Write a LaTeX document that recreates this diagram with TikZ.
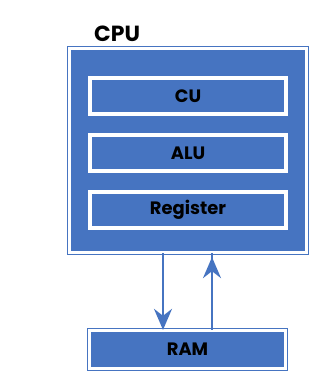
\documentclass[tikz,border=0pt]{standalone}
\usepackage{fontspec}
\setmainfont{Poppins}
\usetikzlibrary{arrows.meta}
\definecolor{cpublue}{RGB}{70,116,193}
\tikzset{
  x=1bp, y=-1bp,
  labelfont/.style={font=\fontsize{18}{20}\selectfont\bfseries},
  unitbox/.style={labelfont, fill=cpublue, draw=white, line width=4bp, minimum width=196bp, minimum height=36bp, inner sep=0pt},
  framedbox/.style={fill=cpublue, draw=cpublue, double=white, double distance=2.4bp, line width=1.3bp, inner sep=0pt},
  link/.style={draw=cpublue, line width=2.4bp},
  tip/.style={-{Stealth[length=21bp, width=18bp, inset=7bp]}}
}
\begin{document}
\begin{tikzpicture}
\useasboundingbox[fill=white] (0,0) rectangle (331,372);
\node[framedbox, minimum width=237bp, minimum height=204bp] (cpu) at (188,150.5) {};
\node[font=\fontsize{22}{24}\selectfont\bfseries, anchor=base west, inner sep=0pt] (cpulabel) at (94,41) {CPU};
\node[unitbox] (cu) at (188,96) {CU};
\node[unitbox] (alu) at (188,153) {ALU};
\node[unitbox] (reg) at (188,210) {Register};
\node[framedbox, labelfont, minimum width=196bp, minimum height=38bp] (ram) at (187.5,349.5) {RAM};
\draw[link, tip] (cpu.south -| 163,0) -- (ram.north -| 163,0);
\draw[link] (ram.north -| 212,0) -- (cpu.south -| 212,0);
\draw[link, tip, shorten >=4bp] (ram.north -| 212,0) -- (cpu.south -| 212,0);
\end{tikzpicture}
\end{document}
